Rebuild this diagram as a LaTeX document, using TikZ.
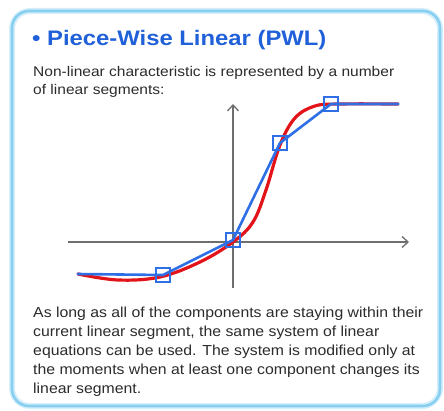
\documentclass[tikz,border=0pt]{standalone}
\usepackage{fontspec}
\setmainfont{Liberation Sans}
\setsansfont{Liberation Sans}
\usepackage{xcolor}
\usetikzlibrary{arrows.meta,positioning}
\definecolor{frameblue}{HTML}{86CFF0}
\definecolor{glow}{HTML}{D4EEFA}
\definecolor{titleblue}{HTML}{2060D8}
\definecolor{pwlblue}{HTML}{2E6FE6}
\definecolor{curvered}{HTML}{E2141A}
\definecolor{axis}{HTML}{6E6E6E}
\definecolor{ink}{HTML}{2B2B2B}
\tikzset{
  font=\sffamily,
  frame/.style={rounded corners=17pt,draw=frameblue,line width=2.6pt},
  axisline/.style={-{Straight Barb[length=6pt,width=11pt,line width=1.3pt]},line width=1.3pt,draw=axis},
  pwl/.style={line width=2.6pt,draw=pwlblue,line join=round},
  exact/.style={line width=3.2pt,draw=curvered,line cap=round},
  knot/.style={draw=pwlblue,line width=1.8pt,minimum size=14pt,inner sep=0pt},
  heading/.style={font=\sffamily\bfseries\fontsize{21}{24}\selectfont,text=titleblue,anchor=west,inner sep=0pt,xscale=1.135,transform shape},
  body/.style={font=\sffamily\fontsize{14}{18}\selectfont,text=ink,align=left,anchor=north west,inner sep=0pt,xscale=1.11,transform shape},
  note/.style={font=\sffamily\fontsize{14.5}{19}\selectfont,text=ink,align=left,anchor=north west,inner sep=0pt,xscale=1.09,transform shape}
}
\begin{document}
\begin{tikzpicture}[x=1pt,y=-1pt]
\useasboundingbox (0,0) rectangle (444,411);
% panel
\draw[glow,line width=6pt,rounded corners=18pt] (12,11) rectangle (440,406);
\draw[frame] (12,11) rectangle (440,406);

\node[heading] (title) at (32,40) {\textbullet\ Piece-Wise Linear (PWL)};
\node[body] (intro) at (33,66) {Non-linear characteristic is represented by a number\\of linear segments:};

% axes
\coordinate (xl) at (68,242);
\coordinate (xr) at (409,242);
\coordinate (yb) at (233,288);
\coordinate (yt) at (233,104);
\draw[axisline] (xl) -- (xr);
\draw[axisline] (yb) -- (yt);

% exact characteristic
\draw[exact] plot[smooth,tension=0.6] coordinates {(78,274) (118,280) (160,277) (200,262) (233,242) (253,222) (266,190) (280,145) (295,118) (315,106) (340,104) (398,104)};

% piece-wise linear approximation
\node[knot] (k1) at (163,275) {};
\node[knot] (k2) at (233,240) {};
\node[knot] (k3) at (280,143) {};
\node[knot] (k4) at (331,104) {};
\coordinate (k0) at (77,274);
\coordinate (k5) at (399,104);
\draw[pwl] (k0) -- (k1.center) -- (k2.center) -- (k3.center) -- (k4.center) -- (k5);
\foreach \k in {k1,k2,k3,k4}
  \node[knot] at (\k) {};

\node[note] (remark) at (33,307) {As long as all of the components are staying within their\\current linear segment, the same system of linear\\equations can be used. The system is modified only at\\the moments when at least one component changes its\\linear segment.};
\end{tikzpicture}
\end{document}
